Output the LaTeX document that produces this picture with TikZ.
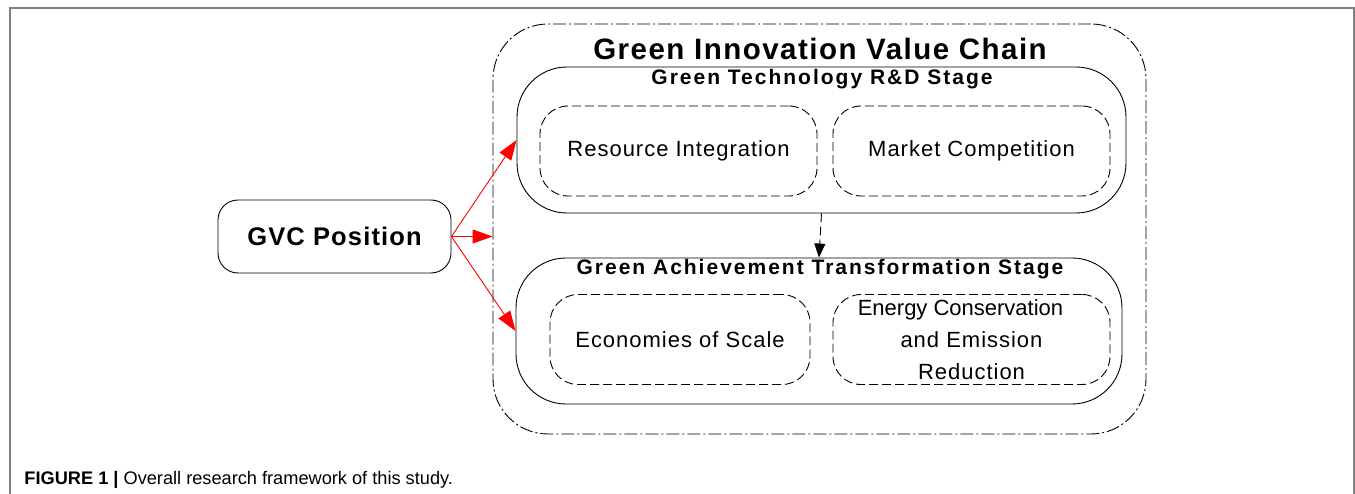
\documentclass[tikz,border=0pt]{standalone}
\usepackage{fontspec}
\setmainfont{Liberation Sans}
\usepackage{tikz}
\usetikzlibrary{arrows.meta}
\newcommand{\chainfont}{\fontsize{29.5}{32}\selectfont\bfseries\addfontfeature{LetterSpace=5}}
\newcommand{\stagefont}{\fontsize{21}{24}\selectfont\bfseries\addfontfeature{LetterSpace=9.5}}
\newcommand{\itemfont}{\fontsize{22}{32}\selectfont\addfontfeature{LetterSpace=4.5}}
\newcommand{\gvcfont}{\fontsize{25.5}{28}\selectfont\bfseries\addfontfeature{LetterSpace=4.5}}

\begin{document}
\begin{tikzpicture}[x=1pt,y=-1pt,line width=0.9pt,
    stage/.style={draw,rounded corners=50pt,minimum height=146pt},
    item/.style={draw,dash pattern=on 9pt off 4pt,rounded corners=28pt,minimum height=90pt,align=center,font=\itemfont},
    red arrow/.style={red,-{Triangle[length=20pt,width=14pt]}}]
\useasboundingbox (0,0) rectangle (1355,494);
\draw [gray,line width=1.2pt] (10,494) -- (10,8) -- (1354,8) -- (1354,494);
\node [draw,dash pattern=on 13pt off 3pt on 2pt off 3pt,rounded corners=55pt,minimum width=653pt,minimum height=410pt] (chain) at (819.5,229) {};
\node [font=\chainfont] (chaintitle) at (820,49) {Green Innovation Value Chain};
\node [stage,minimum width=609pt] (rd) at (821.5,140) {};
\node [font=\stagefont,anchor=base] (rdtitle) at (822,85) {Green Technology R\&D Stage};
\node [item,minimum width=277pt] (res) at (678.5,151) {Resource Integration};
\node [item,minimum width=277pt] (mkt) at (971.5,151) {Market Competition};
\node [stage,minimum width=606pt] (trans) at (819,331) {};
\node [font=\stagefont,anchor=base] (transtitle) at (820,275) {Green Achievement Transformation Stage};
\node [item,minimum width=260pt] (eos) at (680,339.5) {Economies of Scale};
\node [item,minimum width=277pt,inner sep=0pt] (ecer) at (971.5,339.5) {{\addfontfeature{LetterSpace=0}Energy Conservation}\hspace*{22pt}\\and Emission\\Reduction};
\node [draw,rounded corners=20pt,minimum width=233pt,minimum height=73pt,font=\gvcfont] (gvc) at (334.5,236.5) {GVC Position};
\draw [red arrow] (gvc.east) -- (rd.west);
\draw [red arrow] (gvc.east) -- (gvc.east -| chain.west);
\draw [red arrow] (gvc.east) -- (trans.west);
\draw [dash pattern=on 9pt off 4pt,-{Triangle[length=14pt,width=11pt]}] (rd.south) -- (trans.north);
\node [anchor=base west,inner sep=0pt,font=\fontsize{18.2}{20}\selectfont] (caption) at (24,484) {\textbf{FIGURE 1 |} Overall research framework of this study.};
\end{tikzpicture}
\end{document}
